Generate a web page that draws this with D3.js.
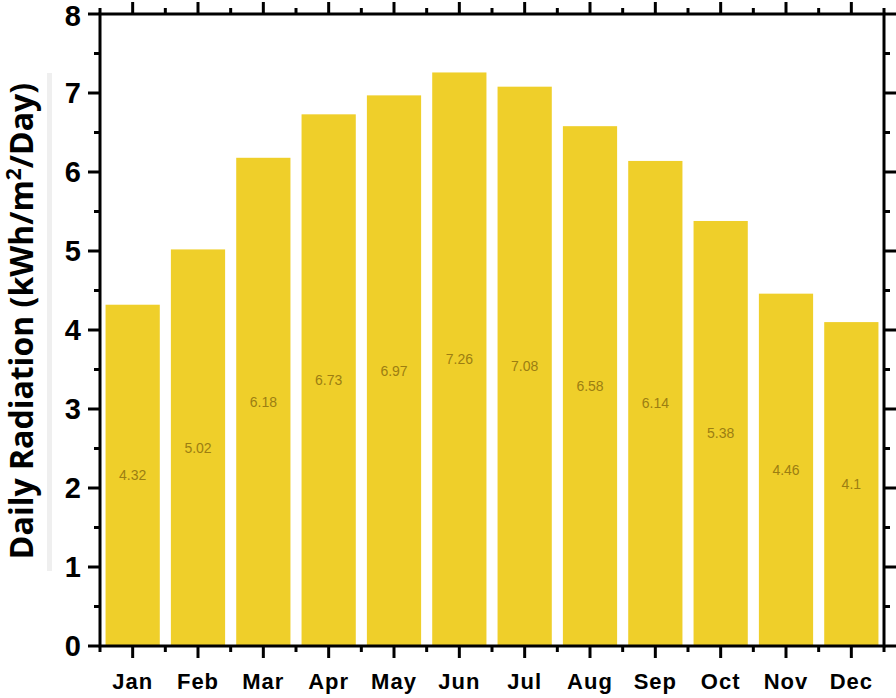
<!DOCTYPE html>
<html>
<head>
<meta charset="utf-8">
<script src="https://cdn.jsdelivr.net/npm/d3@7/dist/d3.min.js"></script>
<style>
  html, body { margin: 0; padding: 0; background: #fff; }
  svg { display: block; }
</style>
</head>
<body>
<svg id="chart" width="896" height="698"></svg>
<script>
const months = ["Jan","Feb","Mar","Apr","May","Jun","Jul","Aug","Sep","Oct","Nov","Dec"];
const radiation = [4.32, 5.02, 6.18, 6.73, 6.97, 7.26, 7.08, 6.58, 6.14, 5.38, 4.46, 4.1];
const yTicks = [0, 1, 2, 3, 4, 5, 6, 7, 8];
const yMinorTicks = [0.5, 1.5, 2.5, 3.5, 4.5, 5.5, 6.5, 7.5];

(function () {
const svg = d3.select("#chart");
const pLeft = 100, pRight = 884, pTop = 14, pBottom = 646;

const x = d3.scaleBand().domain(months).range([pLeft, pRight]).paddingInner(0.17).paddingOuter(0.085);
const xc = d3.scaleBand().domain(months).range([pLeft, pRight]);
const y = d3.scaleLinear().domain([0, 8]).range([pBottom, pTop]);

// faint strip behind title
svg.append("rect").attr("x", 47).attr("y", 73).attr("width", 5).attr("height", 498).attr("fill", "#efefef");

// bars
svg.append("g").selectAll("rect").data(radiation).join("rect")
  .attr("x", (d, i) => x(months[i]))
  .attr("width", x.bandwidth())
  .attr("y", d => y(d))
  .attr("height", d => y(0) - y(d))
  .attr("fill", "#EFCF2A");

// value labels
svg.append("g").selectAll("text").data(radiation).join("text")
  .attr("x", (d, i) => x(months[i]) + x.bandwidth() / 2)
  .attr("y", d => y(d / 2))
  .attr("dy", "0.35em")
  .attr("text-anchor", "middle")
  .attr("font-family", "Liberation Sans, Arial, sans-serif")
  .attr("font-size", 14)
  .attr("fill", "#9C7E12")
  .text(d => d);

const boundaries = months.map(m => xc(m)).concat([pRight]);
const centers = months.map(m => xc(m) + xc.bandwidth() / 2);

function tickLines(g, data, x1, y1, x2, y2) {
  g.append("g").selectAll("line").data(data).join("line")
    .attr("x1", x1).attr("y1", y1).attr("x2", x2).attr("y2", y2)
    .attr("stroke", "#000").attr("stroke-width", 3);
}

const axes = svg.append("g");
tickLines(axes, centers, d => d, pBottom, d => d, pBottom + 12);
tickLines(axes, boundaries, d => d, pBottom, d => d, pBottom + 6);
tickLines(axes, centers, d => d, pTop, d => d, pTop - 12);
tickLines(axes, boundaries, d => d, pTop, d => d, pTop - 6);
tickLines(axes, yTicks, pLeft, d => y(d), pLeft - 12, d => y(d));
tickLines(axes, yMinorTicks, pLeft, d => y(d), pLeft - 6, d => y(d));
tickLines(axes, yTicks, pRight, d => y(d), pRight + 12, d => y(d));
tickLines(axes, yMinorTicks, pRight, d => y(d), pRight + 6, d => y(d));

axes.append("rect").attr("x", pLeft).attr("y", pTop).attr("width", pRight - pLeft).attr("height", pBottom - pTop)
  .attr("fill", "none").attr("stroke", "#000").attr("stroke-width", 3);

// y tick labels
svg.append("g").selectAll("text").data(yTicks).join("text")
  .attr("x", pLeft - 19)
  .attr("y", d => Math.max(y(d), 16))
  .attr("dy", "0.36em")
  .attr("text-anchor", "end")
  .attr("font-family", "Liberation Sans, Arial, sans-serif")
  .attr("font-weight", "bold")
  .attr("font-size", 29)
  .text(d => d);

// x tick labels
svg.append("g").selectAll("text").data(months).join("text")
  .attr("x", (d, i) => centers[i])
  .attr("y", 689)
  .attr("text-anchor", "middle")
  .attr("font-family", "Liberation Sans, Arial, sans-serif")
  .attr("font-weight", "bold")
  .attr("font-size", 22)
  .attr("letter-spacing", 1)
  .text(d => d);

// y title
const title = svg.append("text")
  .attr("transform", "translate(33,321) rotate(-90)")
  .attr("text-anchor", "middle")
  .attr("font-family", "Open Sans, sans-serif")
  .attr("font-weight", "bold")
  .attr("font-size", 32);
title.append("tspan").text("Daily Radiation (kWh/m");
title.append("tspan").attr("dy", -12).attr("font-size", 21).text("2");
title.append("tspan").attr("dy", 12).text("/Day)");
})();
</script>
</body>
</html>
